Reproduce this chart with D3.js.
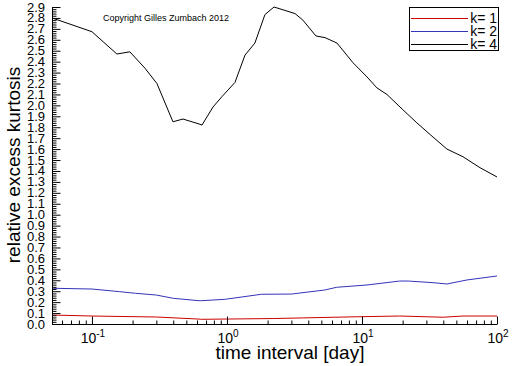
<!DOCTYPE html>
<html><head><meta charset="utf-8">
<script src="https://cdn.jsdelivr.net/npm/d3@7"></script>
<style>
html,body{margin:0;padding:0;background:#fff;}
svg{display:block;}
text{font-family:"Liberation Sans",Arial,sans-serif;}
</style></head>
<body>
<svg id="c" width="512" height="366"></svg>
<script>
// ---- data ----
const seriesNames = ["k= 1", "k= 2", "k= 4"];
const seriesColors = ["#cc0000", "#3333bb", "#000000"];
const k1X = [0.0506, 0.1, 0.3, 0.62, 0.65, 2.2, 3.7, 9.0, 19.0, 40.0, 56.0, 100];
const k1Y = [0.082, 0.073, 0.064, 0.045, 0.043, 0.050, 0.056, 0.066, 0.073, 0.062, 0.073, 0.073];
const k2X = [0.0506, 0.1, 0.16, 0.21, 0.3, 0.4, 0.62, 0.65, 0.97, 1.8, 3.0, 5.3, 6.5, 10.9, 19.0, 22.0, 33.6, 42.6, 60.0, 100];
const k2Y = [0.327, 0.320, 0.296, 0.281, 0.265, 0.235, 0.213, 0.213, 0.226, 0.272, 0.274, 0.311, 0.336, 0.357, 0.393, 0.393, 0.378, 0.366, 0.403, 0.439];
const k4X = [0.0506, 0.1, 0.153, 0.191, 0.247, 0.303, 0.398, 0.472, 0.621, 0.653, 0.788, 0.918, 1.146, 1.36, 1.61, 1.91, 2.23, 3.19, 3.65, 4.56, 5.32, 6.53, 8.58, 10.9, 12.9, 15.3, 20.1, 25.5, 33.6, 42.6, 56.0, 74.8, 100];
const k4Y = [2.80, 2.674, 2.47, 2.49, 2.34, 2.20, 1.85, 1.875, 1.83, 1.82, 1.985, 2.08, 2.21, 2.46, 2.57, 2.83, 2.90, 2.84, 2.78, 2.635, 2.62, 2.57, 2.39, 2.26, 2.16, 2.10, 1.96, 1.84, 1.71, 1.60, 1.53, 1.43, 1.345];
const xDomain = [0.0506, 100];
const yDomain = [0, 2.9];
const xMajorTicks = [0.1, 1, 10, 100];
const xTickExps = ["-1", "0", "1", "2"];
const yMajorTicks = d3.range(0, 30).map(i => i / 10);
const yTickLabels = yMajorTicks.map(v => v.toFixed(1));
const xTitle = "time interval [day]";
const yTitle = "relative excess kurtosis";
const copyright = "Copyright Gilles Zumbach 2012";

// ---- layout ----
const svg = d3.select("#c");
const L = 52, R = 497, T = 7, B = 324;
const x = d3.scaleLog().domain(xDomain).range([L, R]);
const y = d3.scaleLinear().domain(yDomain).range([B, T]);
const narrow = "'Liberation Sans Narrow','Liberation Sans',sans-serif";

const series = [
  {name: seriesNames[0], color: seriesColors[0], xs: k1X, ys: k1Y},
  {name: seriesNames[1], color: seriesColors[1], xs: k2X, ys: k2Y},
  {name: seriesNames[2], color: seriesColors[2], xs: k4X, ys: k4Y}
];
const line = d3.line().x(d => x(d[0])).y(d => y(d[1]));
svg.append("g").selectAll("path").data(series).join("path")
  .attr("d", s => line(s.xs.map((v, i) => [v, s.ys[i]])))
  .attr("fill", "none").attr("stroke", s => s.color).attr("stroke-width", 1);

// axes lines
svg.append("line").attr("x1", L).attr("x2", R).attr("y1", B + 0.5).attr("y2", B + 0.5).attr("stroke", "#000");
svg.append("line").attr("x1", L + 0.5).attr("x2", L + 0.5).attr("y1", T).attr("y2", B).attr("stroke", "#000");

// x ticks (inward)
const xMinor = [];
[0.01, 0.1, 1, 10].forEach(d => { for (let m = 2; m <= 9; m++) { const v = d * m; if (v >= xDomain[0] && v <= xDomain[1]) xMinor.push(v); } });
const gx = svg.append("g").attr("transform", `translate(0,${B + 0.5})`)
  .call(d3.axisBottom(x).tickValues(xMajorTicks).tickSize(-8).tickFormat(""));
gx.select(".domain").remove();
svg.append("g").attr("transform", `translate(0,${B + 0.5})`)
  .call(d3.axisBottom(x).tickValues(xMinor).tickSize(-4).tickFormat(""))
  .select(".domain").remove();
// x tick labels with superscripts
const xl = svg.append("g");
xMajorTicks.forEach((v, i) => {
  const t = xl.append("text").attr("x", x(v) + 1).attr("y", 343).attr("text-anchor", "middle")
    .attr("font-size", 14).attr("font-family", narrow);
  t.append("tspan").text("10");
  t.append("tspan").attr("dy", -6).attr("font-size", 10).text(xTickExps[i]);
});

// y ticks
const yMinor = d3.range(0, 146).map(i => i / 50).filter(v => Math.round(v * 50) % 5 !== 0 && v <= 2.9);
const gy = svg.append("g").attr("transform", `translate(${L + 0.5},0)`)
  .call(d3.axisLeft(y).tickValues(yMajorTicks).tickSize(-8).tickFormat(""));
gy.select(".domain").remove();
svg.append("g").attr("transform", `translate(${L + 0.5},0)`)
  .call(d3.axisLeft(y).tickValues(yMinor).tickSize(-4).tickFormat(""))
  .select(".domain").remove();
svg.append("g").selectAll("text").data(yMajorTicks).join("text")
  .attr("x", 45).attr("y", d => y(d) + 4.5).attr("text-anchor", "end")
  .attr("font-size", 13).attr("font-family", narrow)
  .text((d, i) => yTickLabels[i]);

// titles
svg.append("text").attr("x", 290).attr("y", 359).attr("text-anchor", "middle")
  .attr("font-size", 19).text(xTitle);
svg.append("text").attr("transform", "translate(20,165) rotate(-90)").attr("text-anchor", "middle")
  .attr("font-size", 19).text(yTitle);
svg.append("text").attr("x", 103).attr("y", 21).attr("font-size", 9).text(copyright);

// legend
const lg = svg.append("g");
lg.append("rect").attr("x", 409.5).attr("y", 7.5).attr("width", 89).attr("height", 43)
  .attr("fill", "#fff").attr("stroke", "#000");
const legY = [18, 31, 44];
series.forEach((s, i) => {
  lg.append("line").attr("x1", 411).attr("x2", 468).attr("y1", legY[i] + 0.5).attr("y2", legY[i] + 0.5)
    .attr("stroke", s.color);
  lg.append("text").attr("x", 497).attr("y", legY[i] + 5).attr("text-anchor", "end")
    .attr("font-size", 14).attr("font-family", narrow)
    .text(s.name);
});
</script>
</body></html>
